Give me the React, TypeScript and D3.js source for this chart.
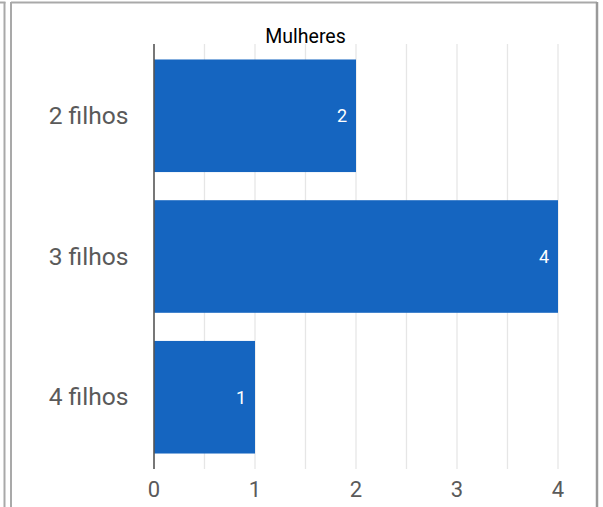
import React from "react";
import * as d3 from "d3";

const categories = ["2 filhos", "3 filhos", "4 filhos"];
const values = [2, 4, 1];
const xTicks = [0, 1, 2, 3, 4];
const minorTicks = [0.5, 1.5, 2.5, 3.5];
const title = "Mulheres";

const W = 603;
const H = 507;

export default function App() {
  const x = d3.scaleLinear().domain([0, 4]).range([154, 558]);
  const y = d3
    .scaleBand<string>()
    .domain(categories)
    .range([44, 469])
    .paddingInner(0.2)
    .paddingOuter(0.11);
  const font = "Roboto, 'Noto Sans', Arial, sans-serif";
  const border = "#a9a9a9";
  return (
    <svg
      width={W}
      height={H}
      style={{ position: "fixed", left: 0, top: 0, background: "#fff" }}
      fontFamily={font}
    >
      <rect x={0} y={0} width={W} height={H} fill="#fff" />
      {/* frame lines */}
      <line x1={0} x2={5.5} y1={2.5} y2={2.5} stroke={border} strokeWidth={2} />
      <line x1={4.5} x2={4.5} y1={2} y2={H} stroke={border} strokeWidth={2} />
      <line x1={11} x2={597} y1={2.5} y2={2.5} stroke={border} strokeWidth={2} />
      <line x1={11} x2={11} y1={2} y2={H} stroke={border} strokeWidth={2} />
      <line x1={597} x2={597} y1={2} y2={H} stroke="#9a9a9a" strokeWidth={2.5} />
      {/* grid */}
      {[...minorTicks, ...xTicks.filter((t) => t > 0)].map((t) => (
        <line
          key={"g" + t}
          x1={x(t)}
          x2={x(t)}
          y1={44}
          y2={469}
          stroke="#e6e6e6"
          strokeWidth={1.3}
        />
      ))}
      {/* bars */}
      {categories.map((c, i) => (
        <g key={c}>
          <rect
            x={x(0)}
            y={y(c)}
            width={x(values[i]) - x(0)}
            height={y.bandwidth()}
            fill="#1565c0"
          />
          <text
            x={x(values[i]) - 9}
            y={(y(c) as number) + y.bandwidth() / 2}
            dy="0.35em"
            textAnchor="end"
            fill="#ffffff"
            fontSize={18}
          >
            {values[i]}
          </text>
          <text
            x={128.5}
            y={(y(c) as number) + y.bandwidth() / 2}
            dy="0.33em"
            textAnchor="end"
            fill="#5a5a5a"
            fontSize={24.6}
          >
            {c}
          </text>
        </g>
      ))}
      {/* zero axis */}
      <line x1={x(0)} x2={x(0)} y1={44} y2={469} stroke="#555555" strokeWidth={1.6} />
      {/* x tick labels */}
      {xTicks.map((t) => (
        <text
          key={"t" + t}
          x={x(t)}
          y={497}
          textAnchor="middle"
          fill="#5a5a5a"
          fontSize={22}
        >
          {t}
        </text>
      ))}
      {/* title */}
      <text x={305.5} y={42.5} textAnchor="middle" fill="#000" fontSize={19.5}>
        {title}
      </text>
    </svg>
  );
}
